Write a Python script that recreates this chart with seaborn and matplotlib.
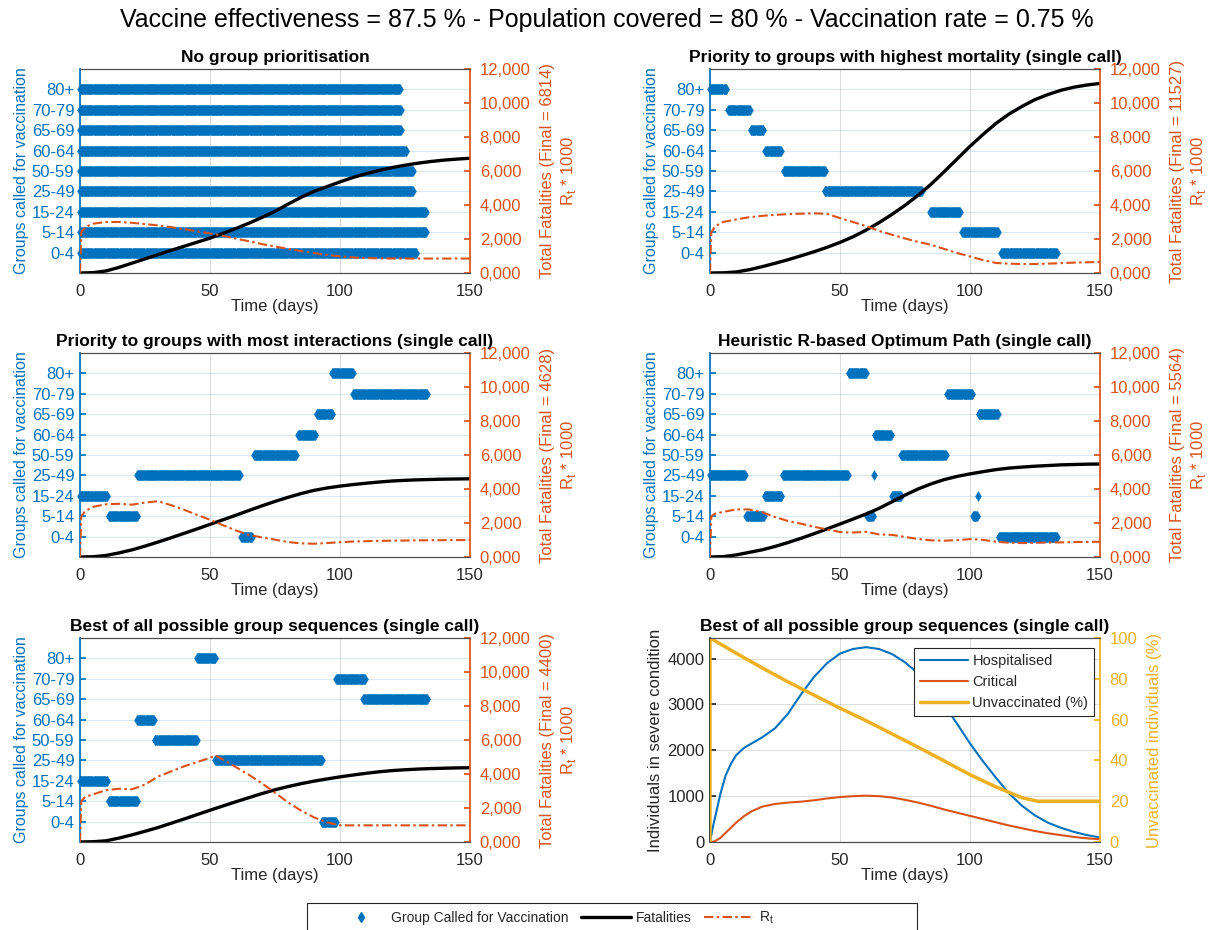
import numpy as np
import pandas as pd
import matplotlib
matplotlib.use("Agg")
import matplotlib.pyplot as plt
from matplotlib.lines import Line2D
from matplotlib.patches import Rectangle
from matplotlib.ticker import FuncFormatter
import seaborn as sns

GROUPS = ["0-4", "5-14", "15-24", "25-49", "50-59", "60-64", "65-69", "70-79", "80+"]

DAYS = [0, 5, 10, 15, 20, 25, 30, 35, 40, 45, 50, 55, 60, 65, 70, 75,
        80, 85, 90, 95, 100, 105, 110, 115, 120, 125, 130, 135, 140, 145, 150]
R_DAYS = [0, 0.5, 2, 5, 10, 15, 20, 25, 30, 35, 40, 45, 50, 52, 55, 60, 65, 70, 75,
          80, 85, 90, 95, 100, 105, 110, 115, 120, 125, 130, 135, 140, 145, 150]

# vaccination calls: (group index, first day, last day)
CALLS_NONE = [(0, 0, 129.5), (1, 0, 133), (2, 0, 133), (3, 0, 128), (4, 0, 128),
              (5, 0, 125.5), (6, 0, 123.5), (7, 0, 123.5), (8, 0, 123)]
CALLS_MORT = [(8, 0, 6.3), (7, 7, 15.2), (6, 15.7, 20.5), (5, 21.3, 27.4), (4, 28.3, 44.3),
              (3, 44.2, 81.5), (2, 84.7, 96.2), (1, 97, 110.7), (0, 112, 133.5)]
CALLS_INTER = [(2, 0, 10.5), (1, 11, 22), (3, 22, 61.5), (0, 62, 66), (4, 67, 83),
               (5, 84, 90.5), (6, 91, 97), (8, 97, 105), (7, 105, 133.5)]
CALLS_HEUR = [(3, 0, 13.5), (1, 14, 20.7), (2, 21, 27.5), (3, 28, 53), (8, 53.3, 60),
              (1, 60.5, 62.7), (3, 63, 63), (5, 63.3, 69.8), (2, 70, 73.5), (4, 73.6, 90.7),
              (7, 91.3, 101), (1, 101.3, 102.8), (2, 103, 103), (6, 103.4, 110.6), (0, 111, 133.5)]
CALLS_BEST = [(2, 0, 10.5), (1, 11, 22), (5, 22, 28.5), (4, 28.8, 45), (8, 45, 52),
              (3, 52, 93), (0, 93, 98.5), (7, 98.5, 109.5), (6, 109, 133.7)]

FAT_NONE = [0, 20, 120, 330, 580, 830, 1080, 1330, 1570, 1810, 2050, 2330, 2620, 2930, 3270, 3630,
            4050, 4450, 4800, 5080, 5360, 5620, 5840, 6030, 6200, 6340, 6460, 6560, 6640, 6700, 6750]
FAT_MORT = [0, 10, 60, 190, 370, 570, 780, 1010, 1250, 1510, 1800, 2130, 2520, 2960, 3450, 3980,
            4570, 5220, 5950, 6700, 7450, 8150, 8800, 9350, 9800, 10200, 10500, 10750, 10930, 11060, 11150]
FAT_INTER = [0, 15, 90, 240, 420, 640, 880, 1130, 1390, 1650, 1920, 2190, 2460, 2740, 3010, 3270,
             3510, 3730, 3920, 4060, 4170, 4260, 4340, 4410, 4470, 4510, 4540, 4560, 4580, 4590, 4600]
FAT_HEUR = [0, 20, 120, 270, 420, 620, 850, 1100, 1370, 1650, 1940, 2230, 2530, 2860, 3250, 3640,
            4000, 4300, 4550, 4740, 4890, 5020, 5140, 5230, 5290, 5340, 5380, 5420, 5440, 5460, 5470]
FAT_BEST = [0, 15, 70, 230, 420, 630, 850, 1100, 1350, 1610, 1870, 2120, 2370, 2610, 2850, 3070,
            3260, 3430, 3580, 3710, 3830, 3940, 4040, 4130, 4200, 4250, 4290, 4320, 4340, 4360, 4370]

R_NONE = [0, 2400, 2700, 2900, 3000, 3000, 2950, 2880, 2800, 2700, 2580, 2450, 2330, 2270, 2190, 2020,
          1870, 1700, 1560, 1420, 1290, 1170, 1060, 980, 920, 880, 860, 850, 850, 850, 850, 850, 850, 850]
R_MORT = [0, 2400, 2750, 3000, 3150, 3280, 3360, 3420, 3460, 3490, 3510, 3480, 3230, 3140, 3000, 2760,
          2480, 2250, 2030, 1830, 1660, 1420, 1180, 970, 760, 590, 550, 530, 530, 550, 580, 610, 630, 650]
R_INTER = [0, 2400, 2700, 2950, 3100, 3130, 3080, 3200, 3280, 3050, 2780, 2480, 2190, 2060, 1870, 1560,
           1300, 1150, 1020, 880, 800, 780, 820, 870, 910, 930, 950, 960, 970, 980, 985, 990, 995, 1000]
R_HEUR = [0, 2400, 2550, 2650, 2800, 2800, 2640, 2350, 2120, 1960, 1780, 1620, 1470, 1450, 1440, 1480,
          1330, 1300, 1180, 1060, 980, 960, 990, 1050, 1010, 900, 840, 820, 830, 850, 860, 880, 890, 900]
R_BEST = [0, 2400, 2650, 2800, 3050, 3130, 3100, 3380, 3850, 4150, 4450, 4700, 4950, 5100, 4850, 4400,
          3950, 3450, 2900, 2330, 1850, 1450, 1150, 980, 980, 980, 980, 980, 980, 980, 980, 980, 980, 980]

FINALS = [6814, 11527, 4628, 5564, 4400]
TITLES = ["No group prioritisation",
          "Priority to groups with highest mortality (single call)",
          "Priority to groups with most interactions (single call)",
          "Heuristic R-based Optimum Path (single call)",
          "Best of all possible group sequences (single call)"]

SEVERE_DAYS = [0, 1, 2, 4, 6, 8, 10, 13, 16, 20, 25, 30, 35, 40, 45, 50, 55, 60, 65, 70, 75,
               80, 85, 90, 95, 100, 105, 110, 115, 120, 125, 130, 135, 140, 145, 150]
HOSPITALISED = [0, 300, 550, 1050, 1450, 1700, 1890, 2050, 2150, 2280, 2480, 2800, 3220, 3600, 3900,
                4110, 4210, 4250, 4210, 4100, 3920, 3680, 3380, 3010, 2580, 2150, 1760, 1400, 1060,
                790, 580, 420, 310, 220, 150, 100]
CRITICAL = [0, 5, 20, 90, 200, 310, 420, 560, 670, 770, 830, 860, 880, 910, 950, 980, 1000, 1010,
            1000, 970, 920, 860, 790, 710, 640, 570, 500, 430, 360, 300, 240, 190, 150, 110, 80, 60]
UNVAX_DAYS = [0, 0, 10, 20, 30, 40, 50, 60, 70, 80, 90, 100, 110, 120, 126, 135, 150]
UNVAX = [0, 100, 92.6, 85.4, 78.5, 72, 65.6, 59.5, 53, 46.5, 39.8, 33, 27, 21.7, 20, 20, 20]

BLUE = "#0072BD"
ORANGE = "#D95319"
YELLOW = "#EDB120"
TXT = "#262626"
RDASH = (0, (4.5, 1.6, 1.2, 1.6))
FS = 12

sns.set_theme(style="white")
plt.rcParams["font.family"] = ["Liberation Sans", "DejaVu Sans"]
plt.rcParams["mathtext.fontset"] = "custom"
plt.rcParams["mathtext.rm"] = "Liberation Sans"

W, H = 1213, 930
fig = plt.figure(figsize=(W / 100, H / 100), dpi=100)


def add_ax(col, row):
    left = [80, 710][col]
    top = [69, 353, 638][row]
    return fig.add_axes([left / W, 1 - (top + 204) / H, 390 / W, 204 / H])


def call_points(calls, step=0.2):
    rows = []
    for g, t0, t1 in calls:
        for t in np.arange(t0, t1 + 1e-9, step):
            rows.append((t, g + 1))
    return pd.DataFrame(rows, columns=["day", "group"])


def frame(ax, ax2, lcol, rcol, gridcol):
    for a in (ax, ax2):
        for s in ("top", "bottom"):
            a.spines[s].set_color("0.3")
            a.spines[s].set_linewidth(0.8)
    ax.spines["right"].set_visible(False)
    ax2.spines["left"].set_visible(False)
    ax.spines["left"].set_color(lcol)
    ax2.spines["right"].set_color(rcol)
    ax.set_xlim(0, 150)
    ax.set_xticks([0, 50, 100, 150])
    ax.set_axisbelow(True)
    ax.grid(axis="x", color=TXT, alpha=0.15, lw=0.8)
    ax.grid(axis="y", color=gridcol, alpha=0.15, lw=0.8)
    ax.tick_params(axis="x", colors=TXT, direction="in", length=4, labelsize=FS, pad=8)
    ax.tick_params(axis="y", colors=lcol, direction="in", length=4, labelsize=FS, pad=4)
    ax2.tick_params(axis="y", colors=rcol, direction="in", length=4, labelsize=FS, pad=7)
    ax.set_xlabel("Time (days)", fontsize=FS, color=TXT, labelpad=0)


panels = [
    (0, 0, CALLS_NONE, FAT_NONE, R_NONE),
    (1, 0, CALLS_MORT, FAT_MORT, R_MORT),
    (0, 1, CALLS_INTER, FAT_INTER, R_INTER),
    (1, 1, CALLS_HEUR, FAT_HEUR, R_HEUR),
    (0, 2, CALLS_BEST, FAT_BEST, R_BEST),
]

for i, (col, row, calls, fat, rt) in enumerate(panels):
    ax = add_ax(col, row)
    pts = call_points(calls)
    sns.scatterplot(data=pts, x="day", y="group", marker="d", s=26, color=BLUE,
                    edgecolor=BLUE, linewidth=0.3, legend=False, ax=ax, zorder=3,
                    clip_on=False)
    ax.set_ylim(0, 10)
    ax.set_yticks(range(1, 10))
    ax.set_yticklabels(GROUPS)
    ax.set_ylabel("Groups called for vaccination", fontsize=11.5, color=BLUE, labelpad=2)
    ax.set_title(TITLES[i], fontsize=12.5, fontweight="bold", color="black", pad=5)

    ax2 = ax.twinx()
    sns.lineplot(x=DAYS, y=fat, color="black", lw=2.4, ax=ax2)
    sns.lineplot(x=R_DAYS, y=rt, color=ORANGE, lw=1.5, linestyle=RDASH,
                 estimator=None, sort=False, ax=ax2)
    ax2.set_ylim(0, 12000)
    ax2.set_yticks(range(0, 12001, 2000))
    ax2.yaxis.set_major_formatter(FuncFormatter(lambda v, _: f"{int(v) // 1000},000"))
    ax2.set_ylabel(f"Total Fatalities (Final = {FINALS[i]})\nR$_\\mathregular{{t}}$ * 1000",
                   fontsize=FS, color=ORANGE, labelpad=7, linespacing=1.25)
    frame(ax, ax2, BLUE, ORANGE, BLUE)
    ax.set_xlim(0, 150)

# severe cases panel
ax = add_ax(1, 2)
sns.lineplot(x=SEVERE_DAYS, y=HOSPITALISED, color=BLUE, lw=1.5, ax=ax)
sns.lineplot(x=SEVERE_DAYS, y=CRITICAL, color=ORANGE, lw=1.5, ax=ax)
ax.set_ylim(0, 4450)
ax.set_yticks(range(0, 4001, 1000))
ax.set_ylabel("Individuals in severe condition", fontsize=FS, color=TXT, labelpad=3)
ax.set_title(TITLES[4], fontsize=12.5, fontweight="bold", color="black", pad=5)
ax2 = ax.twinx()
sns.lineplot(x=UNVAX_DAYS, y=UNVAX, color=YELLOW, lw=2.5, estimator=None, sort=False, ax=ax2)
ax2.set_ylim(0, 100)
ax2.set_yticks(range(0, 101, 20))
ax2.set_ylabel("Unvaccinated individuals (%)", fontsize=FS, color=YELLOW, labelpad=7)
frame(ax, ax2, TXT, YELLOW, TXT)
ax.set_xlim(0, 150)
sev_handles = [Line2D([], [], color=BLUE, lw=1.5),
               Line2D([], [], color=ORANGE, lw=1.5),
               Line2D([], [], color=YELLOW, lw=2.5)]
leg = ax2.legend(sev_handles, ["Hospitalised", "Critical", "Unvaccinated (%)"],
                 loc="upper right", bbox_to_anchor=(0.985, 0.951), borderaxespad=0,
                 fontsize=10.5, handlelength=3.3, handletextpad=0.3, labelspacing=0.5,
                 fancybox=False, framealpha=1, edgecolor=TXT, borderpad=0.4)
leg.get_frame().set_linewidth(0.8)

fig.suptitle("Vaccine effectiveness = 87.5 % - Population covered = 80 % - Vaccination rate = 0.75 %",
             fontsize=18, color="black", y=1 - 20 / H, va="center")

# bottom legend: frame drawn as a figure rectangle, entries placed inside it
fig.patches.append(Rectangle((307 / W, -0.01), 610 / W, 0.01 + 27 / H, transform=fig.transFigure,
                             fill=True, facecolor="white", edgecolor=TXT, lw=0.8))
main_handles = [Line2D([], [], marker="d", color=BLUE, ls="none", markersize=5.5),
                Line2D([], [], color="black", lw=2.4),
                Line2D([], [], color=ORANGE, lw=1.5, linestyle=RDASH)]
fig.legend(main_handles, ["Group Called for Vaccination", "Fatalities", "R$_\\mathregular{t}$"],
           loc="center left", bbox_to_anchor=(336 / W, 1 - 918 / H), ncol=3, fontsize=10,
           handlelength=3.6, handletextpad=0.35, columnspacing=0.9, frameon=False,
           borderaxespad=0, borderpad=0)

fig.savefig("out.png", dpi=100)
